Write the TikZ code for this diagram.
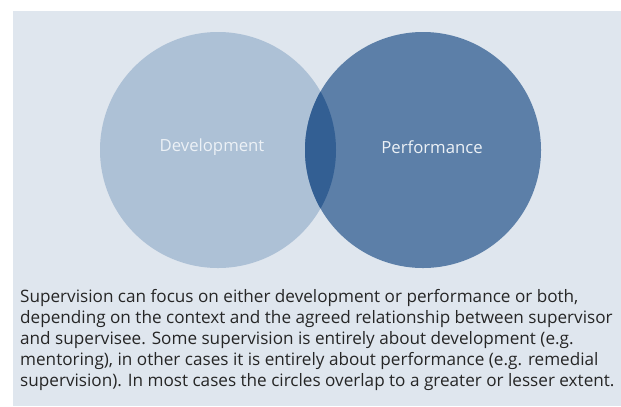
\documentclass[tikz,border=0pt]{standalone}
\usepackage{fontspec}
\setmainfont{Open Sans}
\usetikzlibrary{calc}
\definecolor{panelbg}{RGB}{223, 230, 238}
\definecolor{devblue}{RGB}{173, 193, 214}
\definecolor{perfblue}{RGB}{92, 127, 168}
\definecolor{lensblue}{RGB}{51, 95, 147}
\definecolor{labelwhite}{RGB}{236, 241, 246}

\begin{document}
\begin{tikzpicture}[x=1bp,y=-1bp]

\tikzstyle{venn} = [circle, minimum size=236bp, inner sep=0, outer sep=0]
\tikzstyle{circ_label} = [text=labelwhite, font=\fontsize{16.8}{20}\selectfont, inner sep=0]
\tikzstyle{caption} = [anchor=north west, align=left, inner sep=0,
font=\fontsize{17.2}{21}\selectfont, text=black!85]

\useasboundingbox (0,0) rectangle (621,406);
\fill[panelbg] (13,11) rectangle (621,406);

% the two circles
\node [venn, fill=devblue] (dev) at (218,150) {};
\node [venn, fill=perfblue] (perf) at (423,150) {};

% overlap
\begin{scope}
\clip (dev.center) circle (118);
\fill[lensblue] (perf.center) circle (118);
\end{scope}

\node [circ_label] (devtext) at (212,147) {Development};
\node [circ_label] (perftext) at (432,147) {Performance};

\node [caption] (note) at (20,289) {Supervision can focus on either development or performance or both,\\
depending on the context and the agreed relationship between supervisor\\
and supervisee. Some supervision is entirely about development (e.g.\\
mentoring), in other cases it is entirely about performance (e.g. remedial\\
supervision). In most cases the circles overlap to a greater or lesser extent.};

\end{tikzpicture}
\end{document}
